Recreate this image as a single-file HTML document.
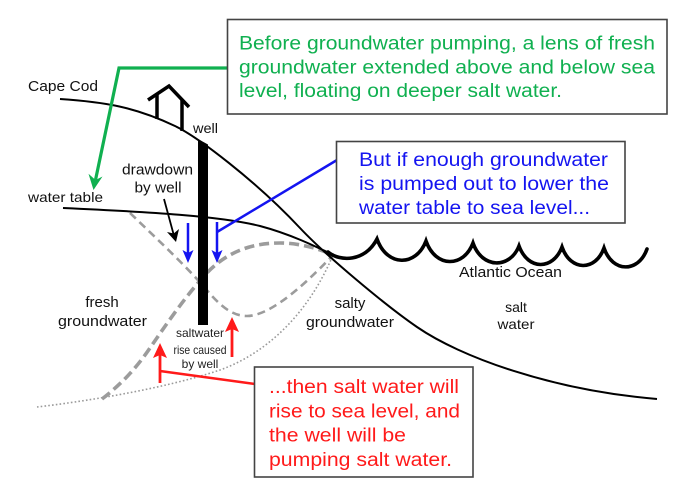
<!DOCTYPE html>
<html><head><meta charset="utf-8"><style>
html,body{margin:0;padding:0;background:#fff;}
svg{display:block;}
text{font-family:"Liberation Sans",Arial,sans-serif;}
</style></head><body>
<svg width="700" height="489" viewBox="0 0 700 489" xmlns="http://www.w3.org/2000/svg">
<rect width="700" height="489" fill="#fff"/>

<!-- dotted line -->
<path d="M37,407 C80,402 160,390 220,370 C270,352 310,310 333,255" fill="none" stroke="#9a9a9a" stroke-width="1.6" stroke-dasharray="1.6 2.2"/>
<!-- dashed line A -->
<path d="M130,213 C160,242 185,265 205,288 C220,306 232,316 247,316 C268,316 300,290 333,255" fill="none" stroke="#9c9c9c" stroke-width="2.6" stroke-dasharray="8 5"/>
<!-- dashed line B -->
<path d="M102,399 C120,385 135,370 150,348 C165,326 185,297 205,275 C225,253 250,243 280,243 C300,243 320,249 333,255" fill="none" stroke="#9c9c9c" stroke-width="3.6" stroke-dasharray="10 5"/>

<!-- ground surface -->
<path d="M60,99 C105,102 135,107 175,126 C197,136.5 255,180 300,228 C325,254.7 385,305 417,327 C460,356.6 550,390 657,399" fill="none" stroke="#000" stroke-width="2"/>
<!-- water table -->
<path d="M63,208 C150,212 220,216 260,226 C290,234 315,246 333,255" fill="none" stroke="#000" stroke-width="2"/>

<!-- waves -->
<path d="M328,252 C340,262 365,262 377,239 C387,267 416,267 426,241 C435.5,268 463.5,268 473,243 C482,269 510,269 519,246 C528,270.5 553,270.5 562,247 C570.5,271.5 595.5,271.5 604,248 C612.5,273 638.5,273 647,249" fill="none" stroke="#000" stroke-width="3.6" stroke-linejoin="miter" stroke-linecap="round"/>

<!-- well -->
<polygon points="198,139 208,144.5 208,325 198,325" fill="#000"/>
<!-- house -->
<polyline points="148,100 169,86 189,107" fill="none" stroke="#000" stroke-width="3.5"/>
<line x1="157" y1="95" x2="157" y2="119" stroke="#000" stroke-width="3.5"/>
<line x1="182" y1="99" x2="182" y2="131" stroke="#000" stroke-width="3.5"/>

<!-- drawdown arrow -->
<line x1="164" y1="199" x2="173.5" y2="234" stroke="#000" stroke-width="1.8"/>
<polygon points="176,242 179,229 173.7,233.5 167,232" fill="#000"/>

<!-- blue arrows -->
<line x1="188" y1="223" x2="188" y2="254" stroke="#1414f0" stroke-width="2.5"/>
<polygon points="188,263 182.5,250 188,253 193.5,250" fill="#1414f0"/>
<line x1="217" y1="222" x2="217" y2="254" stroke="#1414f0" stroke-width="2.5"/>
<polygon points="217,263 211.5,250 217,253 222.5,250" fill="#1414f0"/>
<line x1="217" y1="232" x2="337" y2="160" stroke="#1414f0" stroke-width="2.5"/>

<!-- red arrows -->
<line x1="160" y1="383" x2="160" y2="352" stroke="#ff1a1a" stroke-width="2.8"/>
<polygon points="160,343 153,358 160,355 167,358" fill="#ff1a1a"/>
<line x1="232" y1="357" x2="232" y2="326" stroke="#ff1a1a" stroke-width="2.8"/>
<polygon points="232,317 225,332 232,329 239,332" fill="#ff1a1a"/>
<line x1="160" y1="371" x2="255" y2="384" stroke="#ff1a1a" stroke-width="2.5"/>

<!-- green connector -->
<polyline points="228,68 119,68 95.5,180" fill="none" stroke="#10b050" stroke-width="3.2"/>
<polygon points="93.5,190 102.5,176.5 95.5,180 88.5,173.8" fill="#10b050"/>

<!-- labels -->
<text x="28" y="91" font-size="15" textLength="70" lengthAdjust="spacingAndGlyphs" fill="#111">Cape Cod</text>
<text x="28" y="202" font-size="14" textLength="75" lengthAdjust="spacingAndGlyphs" fill="#111">water table</text>
<text x="193" y="133" font-size="13.5" textLength="25" lengthAdjust="spacingAndGlyphs" fill="#111">well</text>
<text x="122" y="174.5" font-size="14.5" textLength="71" lengthAdjust="spacingAndGlyphs" fill="#111">drawdown</text>
<text x="134.5" y="192.5" font-size="14.5" textLength="47" lengthAdjust="spacingAndGlyphs" fill="#111">by well</text>

<text x="102" y="307" font-size="15" text-anchor="middle" fill="#111">fresh</text>
<text x="58" y="326" font-size="15" textLength="89" lengthAdjust="spacingAndGlyphs" fill="#111">groundwater</text>

<text x="200" y="337" font-size="12" text-anchor="middle" fill="#222">saltwater</text>
<text x="173.5" y="354" font-size="12" textLength="53" lengthAdjust="spacingAndGlyphs" fill="#222">rise caused</text>
<text x="200" y="368" font-size="12" text-anchor="middle" fill="#222">by well</text>

<text x="350" y="308" font-size="15" text-anchor="middle" fill="#111">salty</text>
<text x="306" y="327" font-size="15" textLength="88" lengthAdjust="spacingAndGlyphs" fill="#111">groundwater</text>

<text x="516" y="312" font-size="14" text-anchor="middle" fill="#111">salt</text>
<text x="497.5" y="329" font-size="14" textLength="37" lengthAdjust="spacingAndGlyphs" fill="#111">water</text>

<text x="459" y="277" font-size="14.5" textLength="103" lengthAdjust="spacingAndGlyphs" fill="#111">Atlantic Ocean</text>

<!-- green box -->
<rect x="227.5" y="19.5" width="439.5" height="94.5" fill="#fff" stroke="#444" stroke-width="1.6"/>
<g fill="#10b050" font-size="19">
<text x="239" y="49.5" textLength="416" lengthAdjust="spacingAndGlyphs">Before groundwater pumping, a lens of fresh</text>
<text x="239" y="73.5" textLength="416" lengthAdjust="spacingAndGlyphs">groundwater extended above and below sea</text>
<text x="239" y="97" textLength="323" lengthAdjust="spacingAndGlyphs">level, floating on deeper salt water.</text>
</g>

<!-- blue box -->
<rect x="336.5" y="141.5" width="288.5" height="81.5" fill="#fff" stroke="#444" stroke-width="1.6"/>
<g fill="#1414f0" font-size="19">
<text x="359" y="166" textLength="249" lengthAdjust="spacingAndGlyphs">But if enough groundwater</text>
<text x="359" y="190" textLength="250" lengthAdjust="spacingAndGlyphs">is pumped out to lower the</text>
<text x="359" y="214" textLength="231" lengthAdjust="spacingAndGlyphs">water table to sea level...</text>
</g>

<!-- red box -->
<rect x="254.5" y="367" width="218.5" height="110" fill="#fff" stroke="#444" stroke-width="1.6"/>
<g fill="#ff1a1a" font-size="19">
<text x="269" y="393" textLength="190" lengthAdjust="spacingAndGlyphs">...then salt water will</text>
<text x="269" y="417.5" textLength="191" lengthAdjust="spacingAndGlyphs">rise to sea level, and</text>
<text x="269" y="441.5" textLength="137" lengthAdjust="spacingAndGlyphs">the well will be</text>
<text x="269" y="466" textLength="183" lengthAdjust="spacingAndGlyphs">pumping salt water.</text>
</g>
</svg>
</body></html>
